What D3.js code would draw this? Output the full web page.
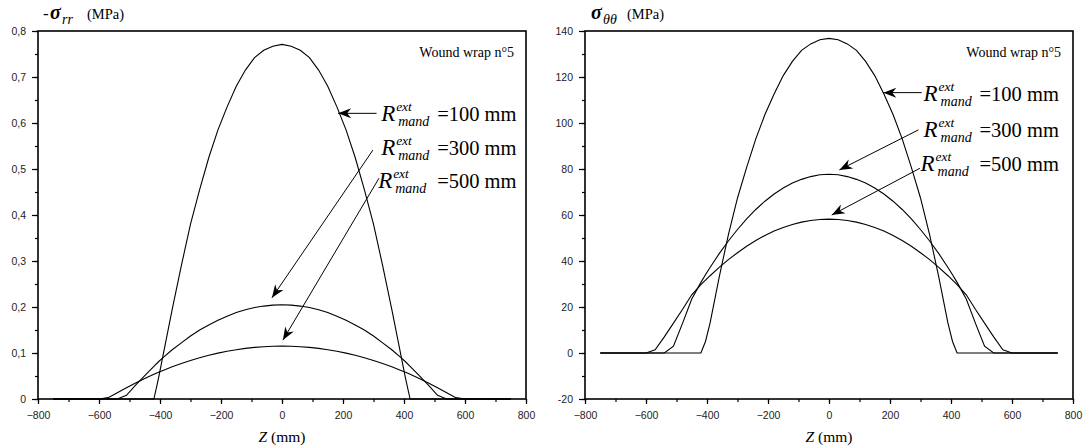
<!DOCTYPE html>
<html><head><meta charset="utf-8">
<script src="https://cdn.jsdelivr.net/npm/d3@7"></script>
<style>body{margin:0;background:#fff}</style>
</head><body>
<svg id="chart" width="1083" height="448"></svg>
<script>
// ---------- data ----------
const zPos = [-750,-600,-570,-540,-510,-480,-450,-420,-405,-390,-360,-330,-300,-270,-240,-210,-180,-150,-120,-90,-60,-30,0,
              30,60,90,120,150,180,210,240,270,300,330,360,390,405,420,450,480,510,540,570,600,750];

// -sigma_rr (MPa)
const srrR100 = [0,0,0,0,0,0,0,0,0.045,0.095,0.195,0.29,0.38,0.455,0.525,0.585,0.635,0.68,0.715,0.742,0.758,0.767,0.771,
                 0.767,0.758,0.742,0.715,0.68,0.635,0.585,0.525,0.455,0.38,0.29,0.195,0.095,0.045,0,0,0,0,0,0,0,0];
const srrR300 = [0,0,0,0,0.008,0.030,0.051,0.071,0.081,0.090,0.107,0.122,0.137,0.150,0.161,0.171,0.180,0.188,0.194,0.199,0.202,0.204,0.205,
                 0.204,0.202,0.199,0.194,0.188,0.180,0.171,0.161,0.150,0.137,0.122,0.107,0.090,0.081,0.071,0.051,0.030,0.008,0,0,0,0];
const srrR500 = [0,0,0.003,0.0135,0.0245,0.035,0.0446,0.0537,0.058,0.062,0.070,0.077,0.0837,0.0896,0.095,0.0997,0.1037,0.1072,0.110,0.1122,0.1137,0.1147,0.115,
                 0.1147,0.1137,0.1122,0.110,0.1072,0.1037,0.0997,0.095,0.0896,0.0837,0.077,0.070,0.062,0.058,0.0537,0.0446,0.035,0.0245,0.0135,0.003,0,0];

// sigma_theta_theta (MPa)
const sttR100 = [0,0,0,0,0,0,0,0,5,13,33,51.4,67.4,80.7,93.1,103.7,112.6,120.6,126.8,131.6,134.4,136.2,136.8,
                 136.2,134.4,131.6,126.8,120.6,112.6,103.7,93.1,80.7,67.4,51.4,33,13,5,0,0,0,0,0,0,0,0];
const sttR300 = [0,0,0,0,3,13,23.5,30.7,34,37.2,43.2,48.7,53.7,58.3,62.4,66,69.1,71.7,73.9,75.5,76.7,77.5,77.7,
                 77.5,76.7,75.5,73.9,71.7,69.1,66,62.4,58.3,53.7,48.7,43.2,37.2,34,30.7,23.5,13,3,0,0,0,0];
const sttR500 = [0,0,1.4,7,13,19,25.3,29.7,31.7,33.6,37.2,40.6,43.6,46.4,48.9,51.1,53,54.6,55.9,56.9,57.6,58.05,58.2,
                 58.05,57.6,56.9,55.9,54.6,53,51.1,48.9,46.4,43.6,40.6,37.2,33.6,31.7,29.7,25.3,19,13,7,1.4,0,0];

const xTickValues = [-800,-600,-400,-200,0,200,400,600,800];
const leftYTicks  = [0,0.1,0.2,0.3,0.4,0.5,0.6,0.7,0.8];
const rightYTicks = [-20,0,20,40,60,80,100,120,140];
const seriesLabels = ["=100 mm","=300 mm","=500 mm"];
const noteText = "Wound wrap n°5";

// ---------- layout ----------
const svg = d3.select("#chart");
const serif = "'Liberation Serif','Times New Roman',serif";
const sans = "'Liberation Sans',Arial,sans-serif";

const defs = svg.append("defs");
defs.append("marker").attr("id","arr").attr("markerUnits","userSpaceOnUse")
  .attr("viewBox","-14 -6 15 12").attr("refX",0).attr("refY",0)
  .attr("markerWidth",15).attr("markerHeight",12).attr("orient","auto")
  .append("path").attr("d","M0,0 L-13,-5 L-9,0 L-13,5 Z").attr("fill","#000");

const panels = [
  { x0:38, x1:526, y0:31, y1:399, yDomain:[0,0.8], yTicks:leftYTicks, yMinorStep:0.05,
    fmt:d=> d===0 ? "0" : d3.format(".1f")(d).replace(".",","),
    series:[srrR100,srrR300,srrR500], title:"rr", minus:true,
    arrows:[[310,0.621,184,0.621],[298,0.541,-33,0.220],[318,0.480,3,0.128]],
    labelZ:325, labelV:[0.604,0.53,0.458] },
  { x0:585, x1:1073, y0:31, y1:399, yDomain:[-20,140], yTicks:rightYTicks, yMinorStep:10,
    fmt:d=> String(d),
    series:[sttR100,sttR300,sttR500], title:"θθ", minus:false,
    arrows:[[304,113.2,178,113.2],[293,97,34,79.6],[298,80.3,9,60]],
    labelZ:310, labelV:[109.5,93.9,79.1] }
];

panels.forEach(p => {
  const x = d3.scaleLinear().domain([-800,800]).range([p.x0,p.x1]);
  const y = d3.scaleLinear().domain(p.yDomain).range([p.y1,p.y0]);
  const g = svg.append("g");

  // minor ticks
  const xMinor = d3.range(-800,801,100);
  const yMinor = d3.range(p.yDomain[0], p.yDomain[1]+1e-9, p.yMinorStep);
  g.append("g").attr("transform",`translate(0,${p.y1})`)
    .call(d3.axisBottom(x).tickValues(xMinor).tickSize(3).tickFormat(""))
    .call(a=>a.select(".domain").remove());
  g.append("g").attr("transform",`translate(${p.x0},0)`)
    .call(d3.axisLeft(y).tickValues(yMinor).tickSize(3).tickFormat(""))
    .call(a=>a.select(".domain").remove());

  // major ticks
  const xa = g.append("g").attr("transform",`translate(0,${p.y1})`)
    .call(d3.axisBottom(x).tickValues(xTickValues).tickSize(5).tickPadding(7.5).tickFormat(d3.format("d")));
  xa.select(".domain").remove();
  xa.selectAll("text").attr("font-family",sans).attr("font-size","10.5px").attr("fill","#222");
  const ya = g.append("g").attr("transform",`translate(${p.x0},0)`)
    .call(d3.axisLeft(y).tickValues(p.yTicks).tickSize(6).tickPadding(6).tickFormat(p.fmt));
  ya.select(".domain").remove();
  ya.selectAll("text").attr("font-family",sans).attr("font-size","10.5px").attr("fill","#222");
  g.selectAll(".tick line").attr("stroke","#000").attr("stroke-width",1.2);

  // curves
  const line = d3.line().x(d=>x(d[0])).y(d=>y(d[1]));
  p.series.forEach(s => {
    g.append("path").datum(zPos.map((z,i)=>[z,s[i]]))
      .attr("d",line).attr("fill","none").attr("stroke","#000").attr("stroke-width",1.1);
  });

  // frame
  g.append("rect").attr("x",p.x0).attr("y",p.y0).attr("width",p.x1-p.x0).attr("height",p.y1-p.y0)
    .attr("fill","none").attr("stroke","#000").attr("stroke-width",1.6);

  // arrows
  p.arrows.forEach(a => {
    g.append("line").attr("x1",x(a[0])).attr("y1",y(a[1])).attr("x2",x(a[2])).attr("y2",y(a[3]))
      .attr("stroke","#000").attr("stroke-width",1).attr("marker-end","url(#arr)");
  });

  // labels R^ext_mand = ...
  p.labelV.forEach((v,i) => {
    const lx = x(p.labelZ) - (i===2 ? 3 : 0), ly = y(v);
    g.append("text").attr("x",lx).attr("y",ly).attr("font-family",serif).attr("font-style","italic")
      .attr("font-size","23px").text("R");
    g.append("text").attr("x",lx+15).attr("y",ly-10).attr("font-family",serif).attr("font-style","italic")
      .attr("font-size","13.5px").text("ext");
    g.append("text").attr("x",lx+17).attr("y",ly+5).attr("font-family",serif).attr("font-style","italic")
      .attr("font-size","14px").text("mand");
    g.append("text").attr("x",lx+56+(i===2?3:0)).attr("y",ly).attr("font-family",serif)
      .attr("font-size","20.5px").text(seriesLabels[i]);
  });

  // note
  g.append("text").attr("x",p.x1-12).attr("y",57).attr("text-anchor","end")
    .attr("font-family",serif).attr("font-size","14px").text(noteText);

  // x label
  const xl = g.append("text").attr("x",(p.x0+p.x1)/2).attr("y",442).attr("text-anchor","middle")
    .attr("font-family",serif).attr("font-size","15.5px");
  xl.append("tspan").attr("font-style","italic").text("Z");
  xl.append("tspan").text(" (mm)");

  // y title
  if (p.minus) {
    g.append("text").attr("x",p.x0+5).attr("y",19).attr("font-family",serif).attr("font-size","17px").text("-");
  }
  const sx = p.minus ? p.x0+12 : p.x0+6;
  g.append("text").attr("x",sx).attr("y",19).attr("font-family",serif).attr("font-style","italic")
    .attr("font-weight","bold").attr("font-size","20px").text("σ");
  g.append("text").attr("x",sx+12).attr("y",24).attr("font-family",serif).attr("font-style","italic")
    .attr("font-size","14px").text(p.title);
  g.append("text").attr("x",p.minus ? p.x0+49 : p.x0+42).attr("y",19).attr("font-family",serif)
    .attr("font-size","14.5px").text("(MPa)");
});
</script>
</body></html>
